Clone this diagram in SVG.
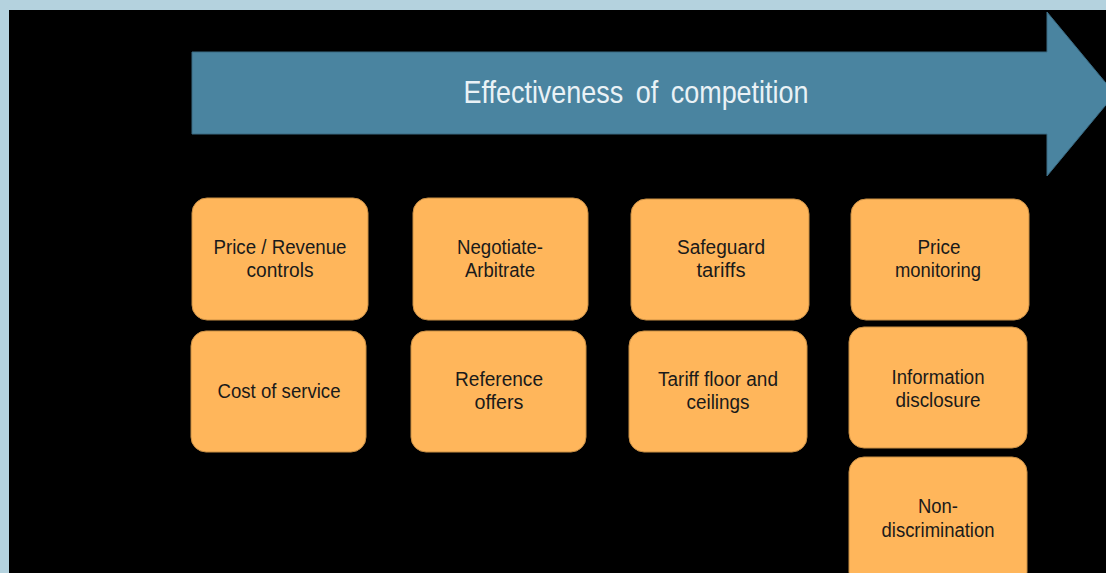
<svg xmlns="http://www.w3.org/2000/svg" width="1106" height="573" viewBox="0 0 1106 573">
  <style>
    .box { fill: #FFB65B; stroke: #C98F45; stroke-width: 1; }
    .lbl { font-family: "Liberation Sans", Arial, sans-serif; font-size: 20px; fill: #1A1A1A; text-anchor: middle; }
    .title { font-family: "Liberation Sans", Arial, sans-serif; font-size: 32px; fill: #EAF2F6; text-anchor: middle; word-spacing: 6px; }
  </style>
  <!-- frame and background -->
  <rect x="0" y="0" width="1106" height="573" fill="#B4D2DE"/>
  <rect x="9" y="10" width="1097" height="563" fill="#000000"/>

  <!-- direction arrow -->
  <g id="arrow">
    <polygon points="192,52 1047,52 1047,12 1115,94 1047,176 1047,134 192,134" fill="#4A84A0" stroke="#3A6A82" stroke-width="1"/>
    <text class="title" x="636" y="103" textLength="345" lengthAdjust="spacingAndGlyphs">Effectiveness of competition</text>
  </g>

  <g id="connectors"></g>

  <g id="price-revenue-controls">
    <rect class="box" x="192" y="198" width="176" height="122" rx="15"/>
    <text class="lbl" x="280" y="254" textLength="133" lengthAdjust="spacingAndGlyphs">Price / Revenue</text>
    <text class="lbl" x="280" y="277" textLength="67" lengthAdjust="spacingAndGlyphs">controls</text>
  </g>
  <g id="cost-of-service">
    <rect class="box" x="191" y="331" width="175" height="121" rx="15"/>
    <text class="lbl" x="279" y="398" textLength="123" lengthAdjust="spacingAndGlyphs">Cost of service</text>
  </g>

  <g id="negotiate-arbitrate">
    <rect class="box" x="413" y="198" width="175" height="122" rx="15"/>
    <text class="lbl" x="500" y="254" textLength="86" lengthAdjust="spacingAndGlyphs">Negotiate-</text>
    <text class="lbl" x="500" y="277" textLength="70" lengthAdjust="spacingAndGlyphs">Arbitrate</text>
  </g>
  <g id="reference-offers">
    <rect class="box" x="411" y="331" width="175" height="121" rx="15"/>
    <text class="lbl" x="499" y="386" textLength="88" lengthAdjust="spacingAndGlyphs">Reference</text>
    <text class="lbl" x="499" y="409" textLength="49" lengthAdjust="spacingAndGlyphs">offers</text>
  </g>

  <g id="safeguard-tariffs">
    <rect class="box" x="631" y="199" width="178" height="121" rx="15"/>
    <text class="lbl" x="721" y="254" textLength="88" lengthAdjust="spacingAndGlyphs">Safeguard</text>
    <text class="lbl" x="721" y="277" textLength="49" lengthAdjust="spacingAndGlyphs">tariffs</text>
  </g>
  <g id="tariff-floor-ceilings">
    <rect class="box" x="629" y="331" width="178" height="121" rx="15"/>
    <text class="lbl" x="718" y="386" textLength="120" lengthAdjust="spacingAndGlyphs">Tariff floor and</text>
    <text class="lbl" x="718" y="409" textLength="63" lengthAdjust="spacingAndGlyphs">ceilings</text>
  </g>

  <g id="price-monitoring">
    <rect class="box" x="851" y="199" width="178" height="121" rx="15"/>
    <text class="lbl" x="939" y="254" textLength="43" lengthAdjust="spacingAndGlyphs">Price</text>
    <text class="lbl" x="938" y="277" textLength="86" lengthAdjust="spacingAndGlyphs">monitoring</text>
  </g>
  <g id="information-disclosure">
    <rect class="box" x="849" y="327" width="178" height="121" rx="15"/>
    <text class="lbl" x="938" y="384" textLength="93" lengthAdjust="spacingAndGlyphs">Information</text>
    <text class="lbl" x="938" y="407" textLength="85" lengthAdjust="spacingAndGlyphs">disclosure</text>
  </g>
  <g id="non-discrimination">
    <rect class="box" x="849" y="457" width="178" height="130" rx="15"/>
    <text class="lbl" x="938" y="513" textLength="40" lengthAdjust="spacingAndGlyphs">Non-</text>
    <text class="lbl" x="938" y="537" textLength="113" lengthAdjust="spacingAndGlyphs">discrimination</text>
  </g>
</svg>
